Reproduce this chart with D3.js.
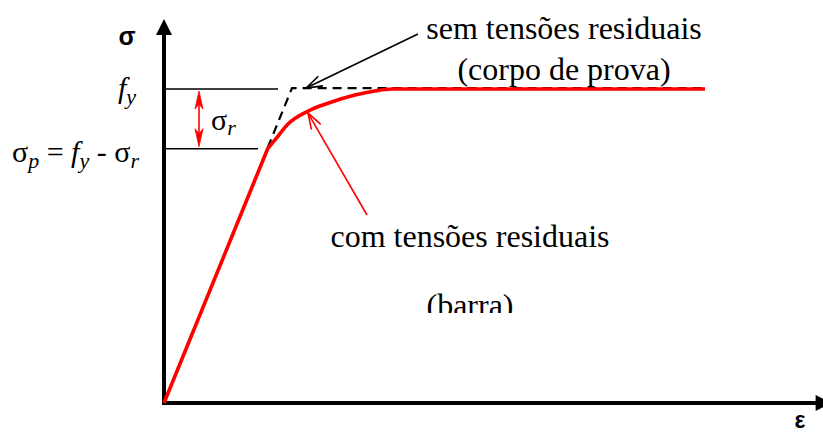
<!DOCTYPE html>
<html>
<head>
<meta charset="utf-8">
<script src="https://cdn.jsdelivr.net/npm/d3@7"></script>
<style>
  html, body { margin: 0; padding: 0; background: #fff; }
  svg { display: block; }
</style>
</head>
<body>
<svg id="chart" width="823" height="435"></svg>
<script>
// Normalised stress–strain diagram: strain as ε/εy, stress as σ/fy.
const fy = 1.0;
const sigmaP = 0.81;            // proportionality limit σp = fy − σr
const sigmaR = fy - sigmaP;     // residual stress σr

// Bar with residual stresses (red curve)
const strainResidual = [0, 0.81, 0.867, 0.969, 1.125, 1.281, 1.492, 1.648, 1.781, 4.227];
const stressResidual = [0, 0.81, 0.838, 0.889, 0.930, 0.955, 0.981, 0.994, 1.0, 1.0];

// Test specimen without residual stresses (black dashed, elastic–perfectly plastic)
const strainSpecimen = [0.81, 1.0, 4.227];
const stressSpecimen = [0.81, 1.0, 1.0];

// Annotation texts
const labelSpecimen = ["sem tensões residuais", "(corpo de prova)"];
const labelBar = ["com tensões residuais", "(barra)"];

const SERIF = "'Liberation Serif', serif";
const SANS = "'Liberation Sans', sans-serif";

// Make sure the system fonts are resolved before the SVG text is laid out
const probe = document.createElement("canvas").getContext("2d");
["32px \"Liberation Serif\", monospace", "italic 32px \"Liberation Serif\", monospace",
 "bold 24px \"Liberation Sans\", monospace"].forEach(f => {
  probe.font = f;
  probe.measureText("sem tensões residuais σε fy (barra)");
});

const svg = d3.select("#chart");

const x = d3.scaleLinear().domain([0, 5.2]).range([164, 829.6]);
const y = d3.scaleLinear().domain([0, 1.22]).range([403, 20]);

const defs = svg.append("defs");
defs.append("clipPath").attr("id", "clipBar")
  .append("rect").attr("x", 0).attr("y", 0).attr("width", 823).attr("height", 313);

function serifText(px, py, size) {
  return svg.append("text").attr("x", px).attr("y", py)
    .attr("font-size", size).style("font-family", SERIF);
}

// Axes with filled arrow heads
const x0 = x(0), y0 = y(0);
const yEnd = y(1.22), xEnd = x(5.2);
svg.append("line").attr("x1", x0).attr("y1", y0 + 2).attr("x2", x0).attr("y2", yEnd + 12)
  .attr("stroke", "#000").attr("stroke-width", 4);
svg.append("path")
  .attr("d", `M${x0},${yEnd - 1} L${x0 - 8},${yEnd + 15} L${x0 + 8},${yEnd + 15} Z`)
  .attr("fill", "#000");
svg.append("line").attr("x1", x0 - 2).attr("y1", y0).attr("x2", xEnd - 12).attr("y2", y0)
  .attr("stroke", "#000").attr("stroke-width", 4);
svg.append("path")
  .attr("d", `M${xEnd + 2},${y0} L${xEnd - 14},${y0 - 8} L${xEnd - 14},${y0 + 8} Z`)
  .attr("fill", "#000");

svg.append("text").attr("x", 127).attr("y", 45).attr("text-anchor", "middle")
  .attr("font-size", 25).attr("font-weight", "bold").style("font-family", SANS).text("σ");
svg.append("text").attr("x", 800).attr("y", 428).attr("text-anchor", "middle")
  .attr("font-size", 23).attr("font-weight", "bold").style("font-family", SANS).text("ε");

// Guide lines for fy and σp
svg.append("line").attr("x1", x0).attr("x2", 278).attr("y1", y(fy)).attr("y2", y(fy))
  .attr("stroke", "#000").attr("stroke-width", 1.6);
svg.append("line").attr("x1", x0).attr("x2", 258).attr("y1", y(sigmaP)).attr("y2", y(sigmaP))
  .attr("stroke", "#000").attr("stroke-width", 1.6);

// fy label
const fyLabel = serifText(118, y(fy) + 9, 30);
fyLabel.append("tspan").attr("font-style", "italic").text("f");
fyLabel.append("tspan").attr("font-style", "italic").attr("font-size", 22).attr("dy", 6).text("y");

// σp = fy - σr label
const spLabel = serifText(12, y(sigmaP) + 13, 30);
spLabel.append("tspan").text("σ");
spLabel.append("tspan").attr("font-style", "italic").attr("font-size", 22).attr("dy", 6).text("p");
spLabel.append("tspan").attr("dy", -6).text(" = ");
spLabel.append("tspan").attr("font-style", "italic").text("f");
spLabel.append("tspan").attr("font-style", "italic").attr("font-size", 22).attr("dy", 6).text("y");
spLabel.append("tspan").attr("dy", -6).text(" - σ");
spLabel.append("tspan").attr("font-style", "italic").attr("font-size", 22).attr("dy", 6).text("r");

// σr double arrow
const ax = 199;
const yTop = y(fy) + 2, yBot = y(sigmaP) - 2;
svg.append("line").attr("x1", ax).attr("x2", ax).attr("y1", yTop + 6).attr("y2", yBot - 6)
  .attr("stroke", "#ff0000").attr("stroke-width", 1.6);
[[yTop, 1], [yBot, -1]].forEach(([yy, d]) => {
  svg.append("path")
    .attr("d", `M${ax},${yy} L${ax - 4},${yy + d * 18} L${ax},${yy + d * 13} L${ax + 4},${yy + d * 18} Z`)
    .attr("fill", "#ff0000").attr("stroke", "#ff0000").attr("stroke-width", 0.8)
    .attr("stroke-linejoin", "round");
});
const srLabel = serifText(211, 130, 30);
srLabel.append("tspan").text("σ");
srLabel.append("tspan").attr("font-style", "italic").attr("font-size", 22).attr("dy", 5).text("r");

// Specimen curve (black dashed)
const specPts = strainSpecimen.map((e, i) => [e, stressSpecimen[i]]);
svg.append("path")
  .attr("d", d3.line().x(d => x(d[0])).y(d => y(d[1]) - 1)(specPts))
  .attr("fill", "none").attr("stroke", "#000").attr("stroke-width", 2.2)
  .attr("stroke-dasharray", "9,6");

// Bar curve (red): straight elastic branch, smooth transition, plateau
const resPts = strainResidual.map((e, i) => [e, stressResidual[i]]);
const curvePath = d3.line().x(d => x(d[0])).y(d => y(d[1])).curve(d3.curveMonotoneX)(resPts.slice(1));
svg.append("path")
  .attr("d", `M${x(resPts[0][0])},${y(resPts[0][1])}L` + curvePath.slice(1))
  .attr("fill", "none").attr("stroke", "#ff0000").attr("stroke-width", 3.6)
  .attr("stroke-linejoin", "round");

// Open-headed pointer arrows
function pointer(x1, y1, x2, y2, color, width) {
  const ang = Math.atan2(y2 - y1, x2 - x1);
  const len = 17, spread = 0.32;
  svg.append("line").attr("x1", x1).attr("y1", y1).attr("x2", x2).attr("y2", y2)
    .attr("stroke", color).attr("stroke-width", width);
  svg.append("path")
    .attr("d", `M${x2 - len * Math.cos(ang - spread)},${y2 - len * Math.sin(ang - spread)}` +
               `L${x2},${y2}` +
               `L${x2 - len * Math.cos(ang + spread)},${y2 - len * Math.sin(ang + spread)}`)
    .attr("fill", "none").attr("stroke", color).attr("stroke-width", width);
}
pointer(418, 34, x(1.11), y(fy) - 1, "#000", 1.6);
pointer(367, 215, x(1.125), y(0.930) + 2, "#ff0000", 1.6);

// Curve labels
serifText(564, 39, 32).attr("text-anchor", "middle").text(labelSpecimen[0]);
serifText(564, 80, 32).attr("text-anchor", "middle").text(labelSpecimen[1]);
serifText(470, 247, 32).attr("text-anchor", "middle").text(labelBar[0]);
serifText(470, 316, 32).attr("text-anchor", "middle")
  .attr("clip-path", "url(#clipBar)").text(labelBar[1]);
</script>
</body>
</html>
